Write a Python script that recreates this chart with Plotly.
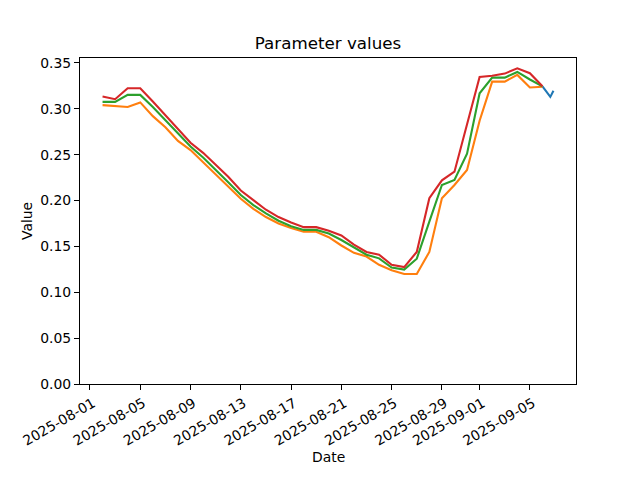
import plotly.graph_objects as go
import pandas as pd

dates = pd.date_range("2025-08-02", "2025-09-06", freq="D")

red_vals = [0.3134, 0.3105, 0.3225, 0.3225, 0.308, 0.293, 0.278, 0.263, 0.252, 0.239,
            0.226, 0.211, 0.200, 0.190, 0.182, 0.176, 0.171, 0.171, 0.167, 0.162,
            0.152, 0.144, 0.141, 0.130, 0.1275, 0.144, 0.2025, 0.222, 0.2315, 0.284,
            0.3348, 0.336, 0.3384, 0.3442, 0.3388, 0.3245]
green_vals = [0.3076, 0.3076, 0.3152, 0.3152, 0.302, 0.288, 0.273, 0.259, 0.247, 0.234,
              0.220, 0.206, 0.195, 0.186, 0.178, 0.172, 0.168, 0.168, 0.164, 0.157,
              0.149, 0.141, 0.137, 0.127, 0.1247, 0.1366, 0.177, 0.217, 0.2225, 0.251,
              0.317, 0.334, 0.334, 0.3402, 0.332, 0.3245]
orange_vals = [0.304, 0.303, 0.302, 0.307, 0.292, 0.280, 0.265, 0.255, 0.242, 0.229,
               0.215, 0.202, 0.191, 0.182, 0.175, 0.170, 0.166, 0.166, 0.160, 0.151,
               0.143, 0.139, 0.130, 0.124, 0.120, 0.120, 0.144, 0.2025, 0.217, 0.2334,
               0.287, 0.3297, 0.3297, 0.337, 0.3232, 0.324]

blue_dates = pd.to_datetime(["2025-09-06 00:00", "2025-09-06 15:00", "2025-09-06 21:00"])
blue_vals = [0.3245, 0.313, 0.3196]

tick_dates = ["2025-08-01", "2025-08-05", "2025-08-09", "2025-08-13", "2025-08-17",
              "2025-08-21", "2025-08-25", "2025-08-29", "2025-09-01", "2025-09-05"]
y_ticks = [0.0, 0.05, 0.10, 0.15, 0.20, 0.25, 0.30, 0.35]

FONT = "DejaVu Sans"

fig = go.Figure()
fig.add_trace(go.Scatter(x=blue_dates, y=blue_vals, mode="lines",
                         line=dict(color="#1f77b4", width=2.1)))
fig.add_trace(go.Scatter(x=dates, y=orange_vals, mode="lines",
                         line=dict(color="#ff7f0e", width=2.1)))
fig.add_trace(go.Scatter(x=dates, y=green_vals, mode="lines",
                         line=dict(color="#2ca02c", width=2.1)))
fig.add_trace(go.Scatter(x=dates, y=red_vals, mode="lines",
                         line=dict(color="#d62728", width=2.1)))

# matplotlib-like 5% margins
xmin = min(dates.min(), blue_dates.min())
xmax = max(dates.max(), blue_dates.max())
span = xmax - xmin
x_range = [xmin - span * 0.05, xmax + span * 0.05]
all_y = red_vals + green_vals + orange_vals + blue_vals
y_top = max(all_y) + (max(all_y) - min(all_y)) * 0.05

W, H = 640, 480
L, R, T, B = 80, 64, 58, 96

fig.update_layout(
    width=W, height=H,
    margin=dict(l=L, r=R, t=T, b=B, pad=0),
    paper_bgcolor="white", plot_bgcolor="white",
    showlegend=False,
    font=dict(family=FONT, size=14, color="black"),
    title=dict(text="Parameter values", x=0.5, xref="paper", xanchor="center",
               y=1 - 43 / H, yref="container", yanchor="middle",
               font=dict(family=FONT, size=16.7, color="black")),
    xaxis=dict(range=x_range, tickvals=pd.to_datetime(tick_dates), ticktext=tick_dates,
               tickangle=-30, showgrid=False, zeroline=False, automargin=False,
               showline=True, linecolor="black", linewidth=1, mirror=True,
               ticks="outside", ticklen=5, tickcolor="black", ticklabelshift=3,
               tickfont=dict(family=FONT, size=13.9)),
    yaxis=dict(range=[0, y_top], tickvals=y_ticks, tickformat=".2f",
               showgrid=False, zeroline=False, automargin=False,
               showline=True, linecolor="black", linewidth=1, mirror=True,
               ticks="outside", ticklen=5, tickcolor="black",
               tickfont=dict(family=FONT, size=13.9)),
    annotations=[
        dict(text="Date", x=0.5, xref="paper", y=-(457 - (H - B)) / (H - T - B),
             yref="paper", showarrow=False, xanchor="center", yanchor="middle",
             font=dict(family=FONT, size=13.9)),
        dict(text="Value", x=-(L - 27) / (W - L - R), xref="paper", y=0.5, yref="paper",
             showarrow=False, textangle=-90, xanchor="center", yanchor="middle",
             font=dict(family=FONT, size=13.9)),
    ],
)

fig.write_html("out.html", config={"displayModeBar": False},
               post_script="document.body.style.margin='0';document.body.style.padding='0';")
